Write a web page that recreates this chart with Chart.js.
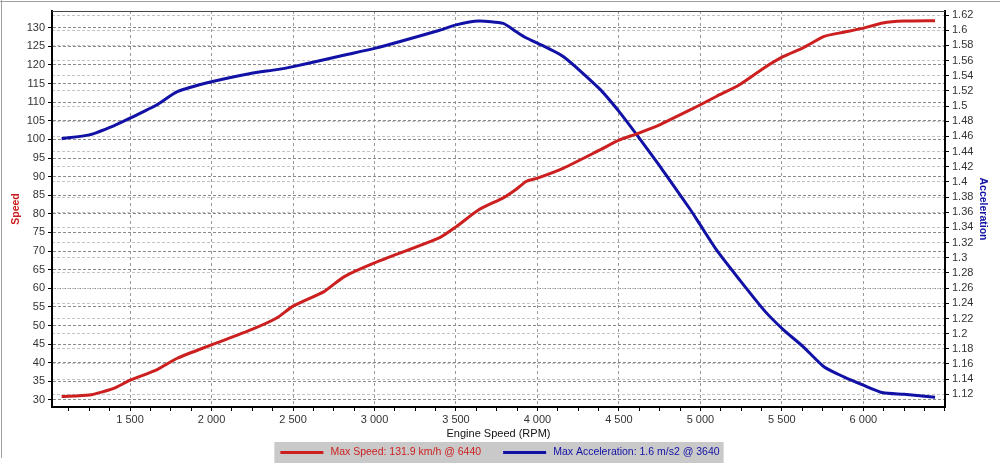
<!DOCTYPE html>
<html>
<head>
<meta charset="utf-8">
<script src="https://cdn.jsdelivr.net/npm/chart.js@4"></script>
<style>
  body { margin: 0; background: #fff; }
</style>
</head>
<body>
<canvas id="dynoChart" width="1000" height="471"></canvas>
<script>
// engine speed (rpm) sample points
const rpm = [1080, 1250, 1400, 1500, 1660, 1790, 2000, 2240, 2400, 2500, 2690, 2810, 3000, 3400, 3500, 3640,
    3790, 3870, 3930, 4000, 4160, 4380, 4500, 4610, 4750, 4790, 4940, 5000, 5100, 5240, 5390, 5510,
    5630, 5760, 5880, 6000, 6120, 6250, 6440];
// km/h
const speed = [30.9, 31.3, 33.1, 35.3, 38.0, 41.2, 44.8, 48.8, 52.0, 55.2, 59.1, 63.0, 66.8, 73.6, 76.5, 81.1,
    84.3, 86.6, 88.7, 89.6, 92.3, 97.1, 99.8, 101.5, 103.9, 104.8, 108.0, 109.3, 111.6, 114.7, 119.2, 122.3,
    124.6, 127.7, 128.8, 129.9, 131.3, 131.8, 131.9];
// m/s2
const accel = [1.457, 1.462, 1.474, 1.484, 1.501, 1.519, 1.532, 1.543, 1.548, 1.552, 1.561, 1.567, 1.576, 1.600, 1.607, 1.612,
    1.609, 1.598, 1.590, 1.583, 1.565, 1.523, 1.493, 1.462, 1.421, 1.409, 1.363, 1.343, 1.310, 1.271, 1.231, 1.205,
    1.183, 1.156, 1.143, 1.132, 1.122, 1.120, 1.116];

const speedTicks = [30, 35, 40, 45, 50, 55, 60, 65, 70, 75, 80, 85, 90, 95, 100, 105, 110, 115, 120, 125, 130];
const accelTicks = [1.12, 1.14, 1.16, 1.18, 1.2, 1.22, 1.24, 1.26, 1.28, 1.3, 1.32, 1.34, 1.36, 1.38, 1.4,
    1.42, 1.44, 1.46, 1.48, 1.5, 1.52, 1.54, 1.56, 1.58, 1.6, 1.62];
const rpmTicks = [1500, 2000, 2500, 3000, 3500, 4000, 4500, 5000, 5500, 6000];

const speedLabel = 'Max Speed: 131.9 km/h @ 6440';
const accelLabel = 'Max Acceleration: 1.6 m/s2 @ 3640';

const RED = '#cc1f1f';
const BLUE = '#1111a6';
const FONT = '"Liberation Sans", Arial, sans-serif';

function spaced(v) {
    return String(v).replace(/\B(?=(\d{3})+(?!\d))/g, ' ');
}

// minor ticks every 125 rpm, labels only on the 500s
const rpmMinor = [];
for (let v = 1125; v <= 6500; v += 125) rpmMinor.push(v);

const boxLegend = {
    id: 'boxLegend',
    afterDraw(chart) {
        const ctx = chart.ctx;
        const W = chart.width;
        ctx.save();
        // frame
        ctx.strokeStyle = '#a0a0a0';
        ctx.lineWidth = 1;
        ctx.beginPath();
        ctx.moveTo(0, 1.5); ctx.lineTo(W, 1.5);
        ctx.moveTo(1.5, 0); ctx.lineTo(1.5, 458);
        ctx.stroke();
        // top edge of the plot
        const a = chart.chartArea;
        ctx.strokeStyle = '#444';
        ctx.beginPath();
        ctx.moveTo(a.left, a.top + 0.5); ctx.lineTo(a.right, a.top + 0.5);
        ctx.stroke();

        ctx.font = '10.5px ' + FONT;
        const items = chart.data.datasets.map(ds => ({
            text: ds.label, color: ds.borderColor, w: ctx.measureText(ds.label).width
        }));
        const lineW = 43, gap = 7, itemGap = 22;
        let total = itemGap * (items.length - 1);
        items.forEach(it => total += lineW + gap + it.w);
        let x = (W - total) / 2;
        ctx.fillStyle = '#c9c9c9';
        ctx.fillRect(x - 6, 442, total + 10, 21);
        const y = 452.5;
        ctx.textBaseline = 'middle';
        items.forEach(it => {
            ctx.strokeStyle = it.color;
            ctx.lineWidth = 3;
            ctx.beginPath();
            ctx.moveTo(x, y); ctx.lineTo(x + lineW, y);
            ctx.stroke();
            ctx.fillStyle = it.color;
            ctx.fillText(it.text, x + lineW + gap, y);
            x += lineW + gap + it.w + itemGap;
        });
        ctx.restore();
    }
};

const config = {
    type: 'line',
    data: {
        datasets: [{
            label: speedLabel,
            data: rpm.map((r, i) => ({x: r, y: speed[i]})),
            borderColor: RED,
            backgroundColor: RED,
            borderWidth: 3,
            pointRadius: 0,
            tension: 0.2,
            yAxisID: 'y'
        }, {
            label: accelLabel,
            data: rpm.map((r, i) => ({x: r, y: accel[i]})),
            borderColor: BLUE,
            backgroundColor: BLUE,
            borderWidth: 3,
            pointRadius: 0,
            tension: 0.2,
            yAxisID: 'y2'
        }]
    },
    options: {
        responsive: false,
        animation: false,
        devicePixelRatio: 1,
        layout: {padding: {top: 11, bottom: 30, left: 0, right: 0}},
        plugins: {
            legend: {display: false},
            tooltip: {enabled: false}
        },
        scales: {
            x: {
                type: 'linear',
                min: 1021,
                max: 6501,
                afterBuildTicks: s => { s.ticks = rpmMinor.map(v => ({value: v})); },
                afterFit: s => { s.height = 34; },
                ticks: {
                    autoSkip: false,
                    maxRotation: 0,
                    padding: 2,
                    color: '#333',
                    font: {family: FONT, size: 11},
                    callback: v => rpmTicks.includes(v) ? spaced(v) : ''
                },
                grid: {
                    color: c => (c.tick && rpmTicks.includes(c.tick.value)) ? '#9a9a9a' : 'rgba(0,0,0,0)',
                    tickColor: '#000',
                    tickLength: 4
                },
                border: {color: '#000', width: 2, dash: [3, 3]},
                title: {
                    display: true,
                    text: 'Engine Speed (RPM)',
                    color: '#111',
                    font: {family: FONT, size: 11},
                    padding: 0
                }
            },
            y: {
                position: 'left',
                min: 28.1,
                max: 134.5,
                afterBuildTicks: s => { s.ticks = speedTicks.map(v => ({value: v})); },
                afterFit: s => { s.width = 52; },
                ticks: {
                    autoSkip: false,
                    padding: 3,
                    color: '#333',
                    font: {family: FONT, size: 11}
                },
                grid: {
                    color: '#8a8a8a',
                    tickColor: '#000',
                    tickLength: 4
                },
                border: {color: '#000', width: 2, dash: [3, 2]},
                title: {
                    display: true,
                    text: 'Speed',
                    color: RED,
                    font: {family: FONT, size: 10.5, weight: 'bold'},
                    padding: {top: 10, bottom: 0}
                }
            },
            y2: {
                position: 'right',
                min: 1.1033,
                max: 1.6253,
                afterBuildTicks: s => { s.ticks = accelTicks.map(v => ({value: v})); },
                afterFit: s => { s.width = 55; },
                ticks: {
                    autoSkip: false,
                    padding: 3,
                    color: '#333',
                    font: {family: FONT, size: 11},
                    callback: v => String(Number(v.toFixed(2)))
                },
                grid: {
                    color: '#c4c4c4',
                    tickColor: '#000',
                    tickLength: 4
                },
                border: {color: '#000', width: 2, dash: [3, 2]},
                title: {
                    display: true,
                    text: 'Acceleration',
                    color: BLUE,
                    font: {family: FONT, size: 10.5, weight: 'bold'},
                    padding: {top: 11, bottom: 0}
                }
            }
        }
    },
    plugins: [boxLegend]
};

new Chart(document.getElementById('dynoChart'), config);
</script>
</body>
</html>
